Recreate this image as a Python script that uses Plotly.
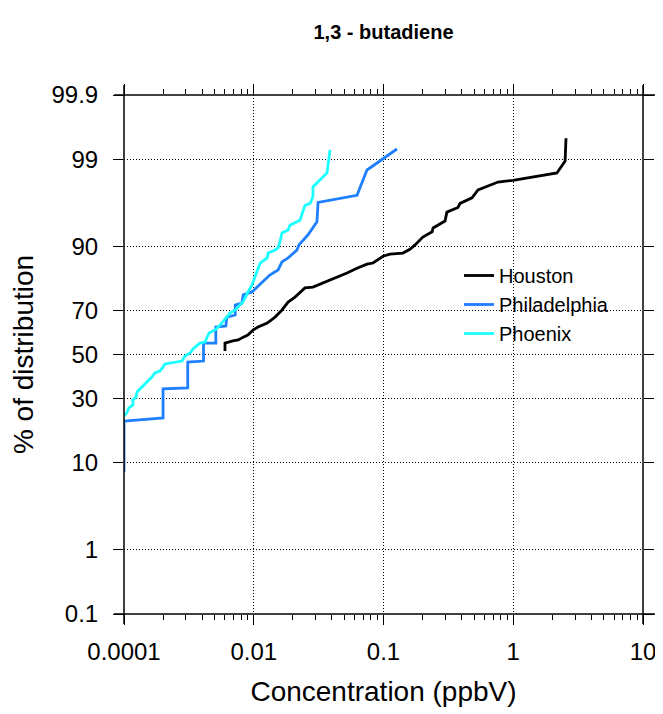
from statistics import NormalDist

import plotly.graph_objects as go

# concentrations (ppbV) and cumulative % of distribution
houston_conc = [0.0060, 0.0060, 0.0069, 0.0076, 0.0083, 0.0090, 0.0099, 0.0108, 0.0127,
                0.0146, 0.0165, 0.0184, 0.0208, 0.0248, 0.0286, 0.0342, 0.0438, 0.0523,
                0.0625, 0.0746, 0.0830, 0.0991, 0.112, 0.141, 0.160, 0.175, 0.201, 0.237,
                0.241, 0.298, 0.308, 0.375, 0.389, 0.481, 0.535, 0.763, 0.996, 2.17,
                2.51, 2.55]
houston_pct = [51.7, 55.4, 56.4, 56.9, 58.2, 59.2, 61.5, 62.8, 64.6, 67.2, 70.2, 73.4,
               75.3, 78.6, 78.9, 80.3, 81.9, 83.4, 84.8, 85.9, 86.2, 87.9, 88.4, 88.65,
               89.5, 90.4, 91.9, 92.8, 93.4, 94.4, 95.5, 96.0, 96.4, 96.9, 97.5, 98.0,
               98.1, 98.47, 98.94, 99.5]

philly_conc = [0.001, 0.001, 0.002, 0.002, 0.0031, 0.0031, 0.0041, 0.0041, 0.0051,
               0.0051, 0.0061, 0.0062, 0.0072, 0.0072, 0.0081, 0.0083, 0.0097, 0.0116,
               0.0133, 0.0154, 0.0165, 0.0184, 0.0215, 0.0223, 0.0248, 0.0262, 0.0307,
               0.0313, 0.0625, 0.0746, 0.127]
philly_pct = [8.1, 21.4, 22.5, 34.1, 34.5, 46.4, 46.9, 55.4, 55.4, 62.8, 63.3, 67.2,
              68.1, 72.2, 73.0, 76.1, 77.2, 80.6, 82.8, 84.3, 86.5, 87.5, 89.3, 90.4,
              91.7, 92.3, 94.3, 96.5, 97.1, 98.6, 99.28]

phoenix_conc = [0.0010, 0.00105, 0.00109, 0.00117, 0.00117, 0.00124, 0.00126, 0.00138,
                0.00150, 0.00164, 0.00173, 0.00189, 0.0020, 0.00207, 0.0028, 0.00295,
                0.00323, 0.0034, 0.00385, 0.00421, 0.00452, 0.00503, 0.0055, 0.00622,
                0.00656, 0.00717, 0.00826, 0.00903, 0.0097, 0.0102, 0.0108, 0.0112,
                0.0127, 0.0129, 0.0146, 0.0154, 0.0159, 0.0165, 0.0184, 0.0190, 0.0227,
                0.0236, 0.0248, 0.0272, 0.0286, 0.0286, 0.0367, 0.0387]
phoenix_pct = [23.2, 24.3, 26.2, 27.4, 29.4, 30.6, 32.8, 34.9, 37.2, 39.4, 41.3, 42.2,
               44.1, 45.5, 46.9, 49.3, 50.7, 52.6, 55.4, 55.9, 60.1, 61.5, 63.7, 67.2,
               68.9, 70.2, 73.4, 77.2, 79.6, 82.2, 84.8, 86.2, 87.5, 88.65, 89.3, 89.8,
               91.0, 92.6, 93.1, 93.8, 94.5, 95.4, 96.2, 96.4, 97.0, 97.7, 98.47, 99.26]

y_ticks = [0.1, 1, 10, 30, 50, 70, 90, 99, 99.9]
x_ticks = [0.001, 0.01, 0.1, 1, 10]
x_tick_text = ["0.0001", "0.01", "0.1", "1", "10"]

nd = NormalDist()


def probit(pcts):
    return [nd.inv_cdf(p / 100) for p in pcts]


series = [
    ("Houston", houston_conc, houston_pct, "black"),
    ("Philadelphia", philly_conc, philly_pct, "#1e7fff"),
    ("Phoenix", phoenix_conc, phoenix_pct, "#1affff"),
]

fig = go.Figure()
for name, conc, pct, color in series:
    fig.add_trace(
        go.Scatter(
            x=conc,
            y=probit(pct),
            mode="lines",
            name=name,
            line=dict(color=color, width=2.8),
        )
    )

zmax = nd.inv_cdf(0.999)
font = "Liberation Sans, Arial, sans-serif"

# page body adds an 8px offset, so the figure is 8px smaller on each side
W, H = 655, 706
L, T, R, B = 116, 87, 20, 100
PW = W - L - R

fig.update_layout(
    width=W,
    height=H,
    margin=dict(l=L, r=R, t=T, b=B, autoexpand=False),
    paper_bgcolor="white",
    plot_bgcolor="white",
    font=dict(family=font, size=24, color="black"),
    title=dict(
        text="<b>1,3 - butadiene</b>",
        x=(L + PW / 2) / W,
        xanchor="center",
        y=1 - 24 / H,
        yanchor="middle",
        font=dict(size=20),
    ),
    showlegend=True,
    legend=dict(
        x=(425 - 124 + 34) / PW,
        y=(354.5 - 264 + 8) / PW + 0.5,
        xanchor="left",
        yanchor="top",
        bgcolor="rgba(0,0,0,0)",
        font=dict(size=20),
        tracegroupgap=0,
    ),
)

fig.update_xaxes(
    type="log",
    range=[-3, 1],
    tickvals=x_ticks,
    ticktext=x_tick_text,
    ticks="outside",
    ticklen=10,
    tickcolor="black",
    ticklabelstandoff=6,
    mirror="ticks",
    showline=False,
    showgrid=True,
    gridcolor="black",
    griddash="1px,2px",
    gridwidth=1,
    zeroline=False,
    minor=dict(
        tickvals=[k * 10.0 ** e for e in range(-3, 1) for k in range(2, 10)],
        ticks="outside",
        ticklen=5,
        tickcolor="black",
        showgrid=False,
    ),
    title=dict(text="Concentration (ppbV)", font=dict(size=28), standoff=17),
)

fig.update_yaxes(
    range=[-zmax, zmax],
    tickvals=probit(y_ticks),
    ticktext=[str(v) for v in y_ticks],
    ticks="outside",
    ticklen=10,
    tickcolor="black",
    ticklabelstandoff=10,
    mirror="ticks",
    showline=False,
    showgrid=True,
    gridcolor="black",
    griddash="1px,2px",
    gridwidth=1,
    zeroline=False,
    title=dict(text="% of distribution", font=dict(size=28), standoff=18),
)

# frame lines that run a little past the corners
ext = 10 / PW
for x0, x1, y0, y1 in [(-ext, 1 + ext * 1.3, 0, 0), (-ext, 1 + ext * 1.3, 1, 1),
                       (0, 0, -ext, 1 + ext), (1, 1, -ext, 1 + ext)]:
    fig.add_shape(type="line", xref="paper", yref="paper", x0=x0, x1=x1, y0=y0, y1=y1,
                  line=dict(color="black", width=1.5))

fig.write_html("out.html")
